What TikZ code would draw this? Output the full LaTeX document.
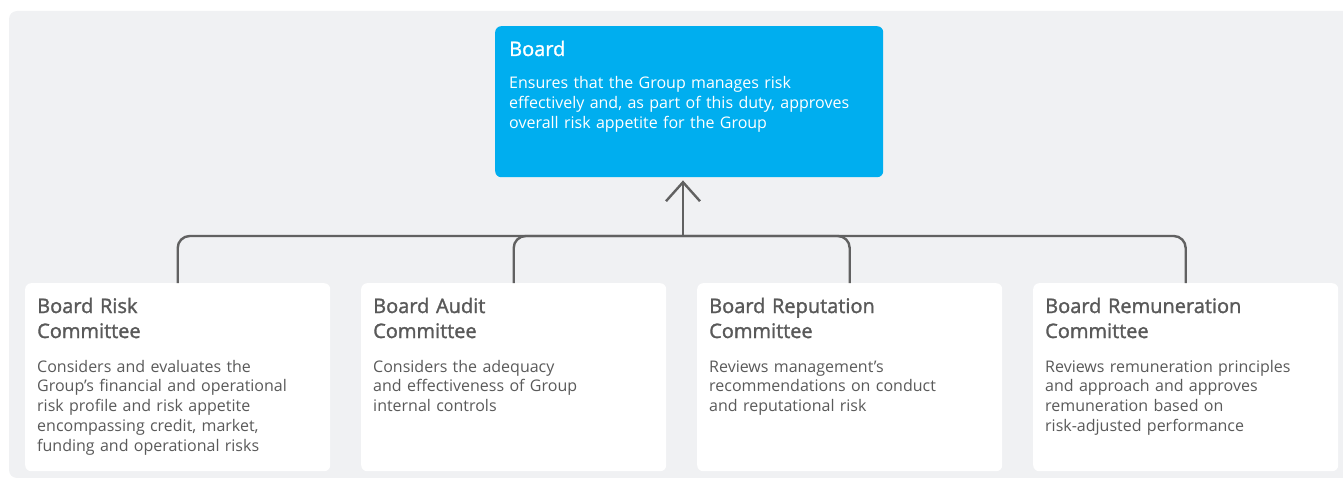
\documentclass[tikz,border=0pt]{standalone}
\usepackage{fontspec}
\setmainfont{Open Sans}
\newfontfamily\headfont{Open Sans}[FakeBold=1.5]
\usetikzlibrary{arrows.meta}

\definecolor{panelgray}{HTML}{F0F1F3}
\definecolor{boardblue}{HTML}{00AEEF}
\definecolor{linegray}{HTML}{616161}
\definecolor{headgray}{HTML}{595959}
\definecolor{bodygray}{HTML}{5A5A5A}

\tikzset{
  combox/.style={fill=white, rounded corners=6pt, minimum width=305pt, minimum height=188pt,
    inner sep=0pt, anchor=north west},
  headtext/.style={anchor=base west, inner sep=0pt, align=left, text width=285pt,
    font=\headfont\fontsize{20}{25}\selectfont, text=headgray},
  bodytext/.style={anchor=base west, inner sep=0pt, align=left, text width=285pt,
    font=\fontsize{16}{19.8}\selectfont, text=bodygray},
  bus/.style={draw=linegray, line width=2.4pt, rounded corners=12pt},
}

\begin{document}
\begin{tikzpicture}[x=1pt, y=-1pt]

  \useasboundingbox (0,0) rectangle (1343,478);

  % -- Background Panel --
  \fill[panelgray, rounded corners=8pt] (9,11) rectangle (1360,478);

  % -- Board --
  \node[fill=boardblue, rounded corners=6pt, minimum width=388pt, minimum height=151pt,
    inner sep=0pt, anchor=north west] (board) at (495,26) {};
  \node[headtext, text=white] (boardhead) at ([shift={(14pt,-30pt)}]board.north west) {Board};
  \node[bodytext, text=white, text width=365pt, font=\fontsize{16}{20}\selectfont] (boardbody)
    at ([shift={(14pt,-63pt)}]board.north west)
    {Ensures that the Group manages risk\\effectively and, as part of this duty, approves\\overall risk appetite for the Group};

  % -- Committees --
  \node[combox] (risk) at (25,283) {};
  \node[combox] (audit) at (361,283) {};
  \node[combox] (reput) at (697,283) {};
  \node[combox] (remun) at (1033,283) {};

  % -- Committee Texts --
  \node[headtext] (riskhead) at ([shift={(12pt,-30pt)}]risk.north west) {Board Risk\\Committee};
  \node[bodytext] (riskbody) at ([shift={(12pt,-89pt)}]risk.north west)
    {Considers and evaluates the\\Group’s financial and operational\\risk profile and risk appetite\\encompassing credit, market,\\funding and operational risks};

  \node[headtext] (audithead) at ([shift={(12pt,-30pt)}]audit.north west) {Board Audit\\Committee};
  \node[bodytext] (auditbody) at ([shift={(12pt,-89pt)}]audit.north west)
    {Considers the adequacy\\and effectiveness of Group\\internal controls};

  \node[headtext] (reputhead) at ([shift={(12pt,-30pt)}]reput.north west) {Board Reputation\\Committee};
  \node[bodytext] (reputbody) at ([shift={(12pt,-89pt)}]reput.north west)
    {Reviews management’s\\recommendations on conduct\\and reputational risk};

  \node[headtext] (remunhead) at ([shift={(12pt,-30pt)}]remun.north west) {Board Remuneration\\Committee};
  \node[bodytext] (remunbody) at ([shift={(12pt,-89pt)}]remun.north west)
    {Reviews remuneration principles\\and approach and approves\\remuneration based on\\risk-adjusted performance};

  % -- Connectors --
  \coordinate (hub) at (683,236);
  \draw[bus] (risk.north) |- (hub) -| (remun.north);
  \draw[bus] (audit.north) |- (hub) -| (reput.north);
  \draw[draw=linegray, line width=2.4pt, -{Straight Barb[length=19pt, width=34pt]}, shorten >=3pt]
    (hub) -- (hub |- board.south);

\end{tikzpicture}
\end{document}
